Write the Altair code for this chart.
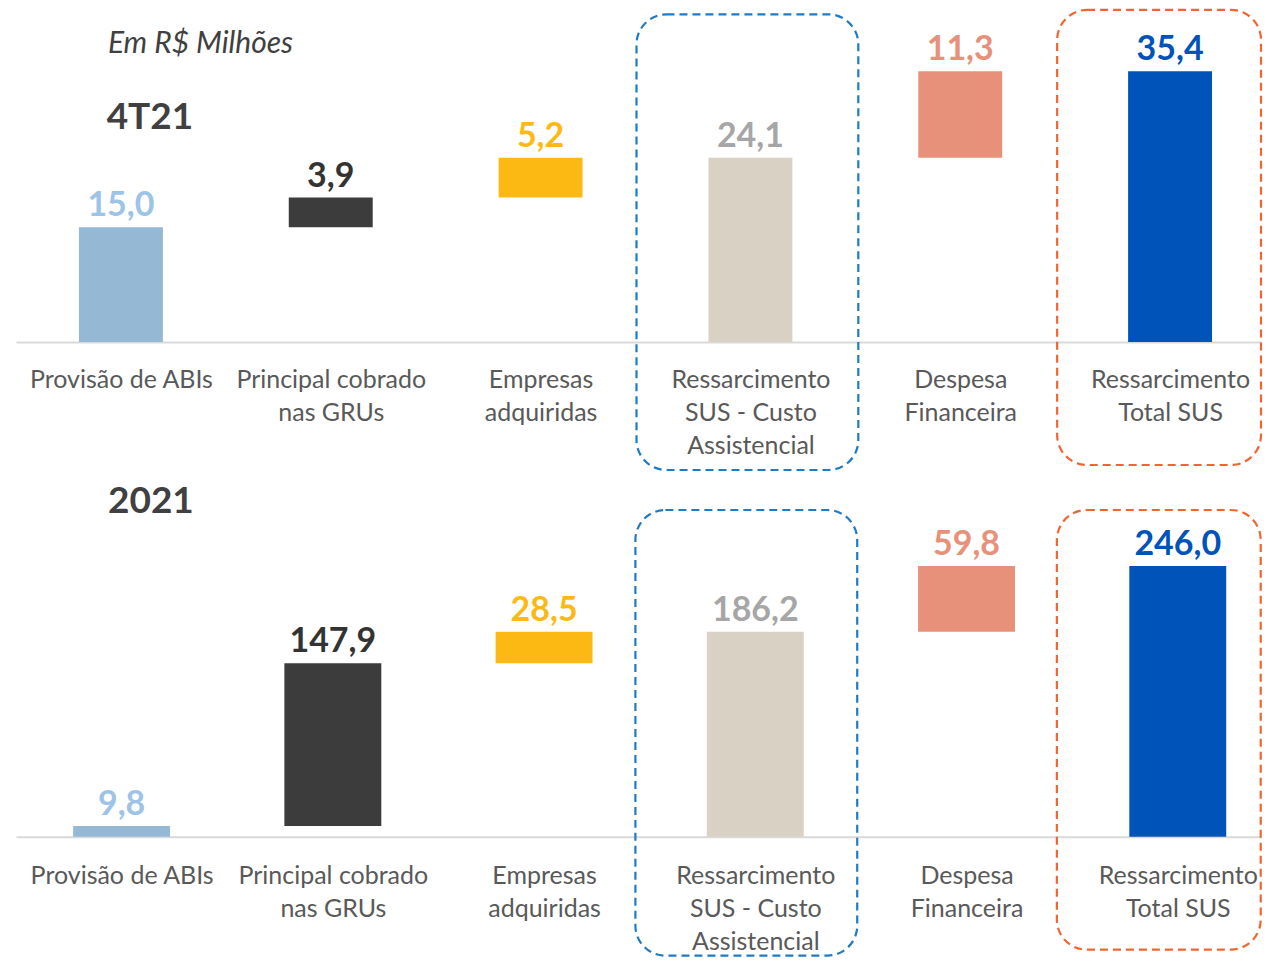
import json
import altair as alt
import pandas as pd

# ---------------- data ----------------
categories = [
    "Provisão de ABIs",
    "Principal cobrado\nnas GRUs",
    "Empresas\nadquiridas",
    "Ressarcimento\nSUS - Custo\nAssistencial",
    "Despesa\nFinanceira",
    "Ressarcimento\nTotal SUS",
]
is_total = [False, False, False, True, False, True]
values_4t21 = [15.0, 3.9, 5.2, 24.1, 11.3, 35.4]
values_2021 = [9.8, 147.9, 28.5, 186.2, 59.8, 246.0]
period_names = ["4T21", "2021"]
subtitle = "Em R$ Milhões"

bar_colors = ["#95B8D4", "#3C3C3C", "#FDB913", "#D9D1C4", "#E8917A", "#0053B8"]
label_colors = ["#9DC3E6", "#333333", "#FDB913", "#A6A6A6", "#E8917A", "#0053B8"]
box_blue = "#1F7BC4"
box_orange = "#F26430"
FONT = "Lato"

label_array = json.dumps(categories, ensure_ascii=False)


def build_frame(values):
    rows = []
    running = 0.0
    for i, (v, tot, bc, lc) in enumerate(zip(values, is_total, bar_colors, label_colors)):
        if tot:
            start, end = 0.0, v
            running = v
        else:
            start, end = running, running + v
            running = end
        rows.append(dict(idx=i, start=start, end=end,
                         label=f"{v:.1f}".replace(".", ","),
                         bar_color=bc, label_color=lc))
    return pd.DataFrame(rows)


def panel(df, period, width, height, step, ymax, bar_w, blue_y, orange_y,
          blue_dx, orange_dx, orange_w, period_xy, label_pad, with_subtitle):
    xscale = alt.Scale(domain=[-0.5, -0.5 + width / step], nice=False,
                       zero=False, padding=0)
    x = alt.X(
        "idx:Q", title=None, scale=xscale,
        axis=alt.Axis(
            values=list(range(len(categories))),
            labelExpr=f"split({label_array}[datum.value], '\\n')",
            labelAngle=0, labelAlign="center", labelBaseline="top",
            ticks=False, tickSize=0, grid=False,
            domainColor="#D9D9D9", domainWidth=2,
            labelFont=FONT, labelFontSize=25, labelColor="#595959",
            labelLineHeight=33, labelPadding=label_pad, labelLimit=400,
            labelOverlap=False, labelFlush=False,
        ),
    )
    xs = alt.X("idx:Q", scale=xscale)
    yscale = alt.Scale(domain=[0, ymax], nice=False, zero=True, padding=0)

    bars = alt.Chart(df).mark_bar(width=bar_w).encode(
        x=x,
        y=alt.Y("start:Q", scale=yscale, axis=None),
        y2="end:Q",
        color=alt.Color("bar_color:N", scale=None),
    )
    labels = alt.Chart(df).mark_text(
        font=FONT, fontSize=34, fontWeight="bold", baseline="alphabetic", dy=-11
    ).encode(
        x=xs,
        y=alt.Y("end:Q", scale=yscale, axis=None),
        text="label:N",
        color=alt.Color("label_color:N", scale=None),
    )
    blue_box = alt.Chart(df[df["idx"] == 3]).mark_bar(
        width=222, filled=False, stroke=box_blue, strokeWidth=2.2,
        strokeDash=[8, 5], cornerRadius=30, xOffset=blue_dx,
    ).encode(x=xs, y=alt.value(blue_y[0]), y2=alt.value(blue_y[1]))
    orange_box = alt.Chart(df[df["idx"] == 5]).mark_bar(
        width=orange_w, filled=False, stroke=box_orange, strokeWidth=2.2,
        strokeDash=[8, 5], cornerRadius=30, xOffset=orange_dx,
    ).encode(x=xs, y=alt.value(orange_y[0]), y2=alt.value(orange_y[1]))

    period_text = alt.Chart(pd.DataFrame({"t": [period]})).mark_text(
        font=FONT, fontSize=37, fontWeight="bold", color="#404040",
        align="center", baseline="middle",
    ).encode(x=alt.value(period_xy[0]), y=alt.value(period_xy[1]), text="t:N")

    layers = [blue_box, orange_box, bars, labels, period_text]
    if with_subtitle:
        sub = alt.Chart(pd.DataFrame({"t": [subtitle]})).mark_text(
            font=FONT, fontSize=30, fontStyle="italic", color="#404040",
            align="left", baseline="middle",
        ).encode(x=alt.value(92), y=alt.value(36), text="t:N")
        layers.append(sub)
    return alt.layer(*layers).properties(width=width, height=height)


df1 = build_frame(values_4t21)
df2 = build_frame(values_2021)

p1 = panel(df1, period_names[0], 1246, 334, 210.0, 334 * 35.4 / 271, 84,
           (6, 462), (1.5, 457), -3, -11, 204, (134, 110), 25, True)
p2 = panel(df2, period_names[1], 1246, 359, 211.4, 359 * 246.0 / 271, 97,
           (32, 478), (32, 472), -9, -19, 204, (135, 24), 27, False)

chart = alt.vconcat(p1, p2, spacing=136, bounds="flush").properties(
    padding={"left": 8, "top": 0, "right": 0, "bottom": 0},
    background="white",
).configure_view(strokeWidth=0)

chart.save("out.html", embed_options={"renderer": "svg", "actions": False})
